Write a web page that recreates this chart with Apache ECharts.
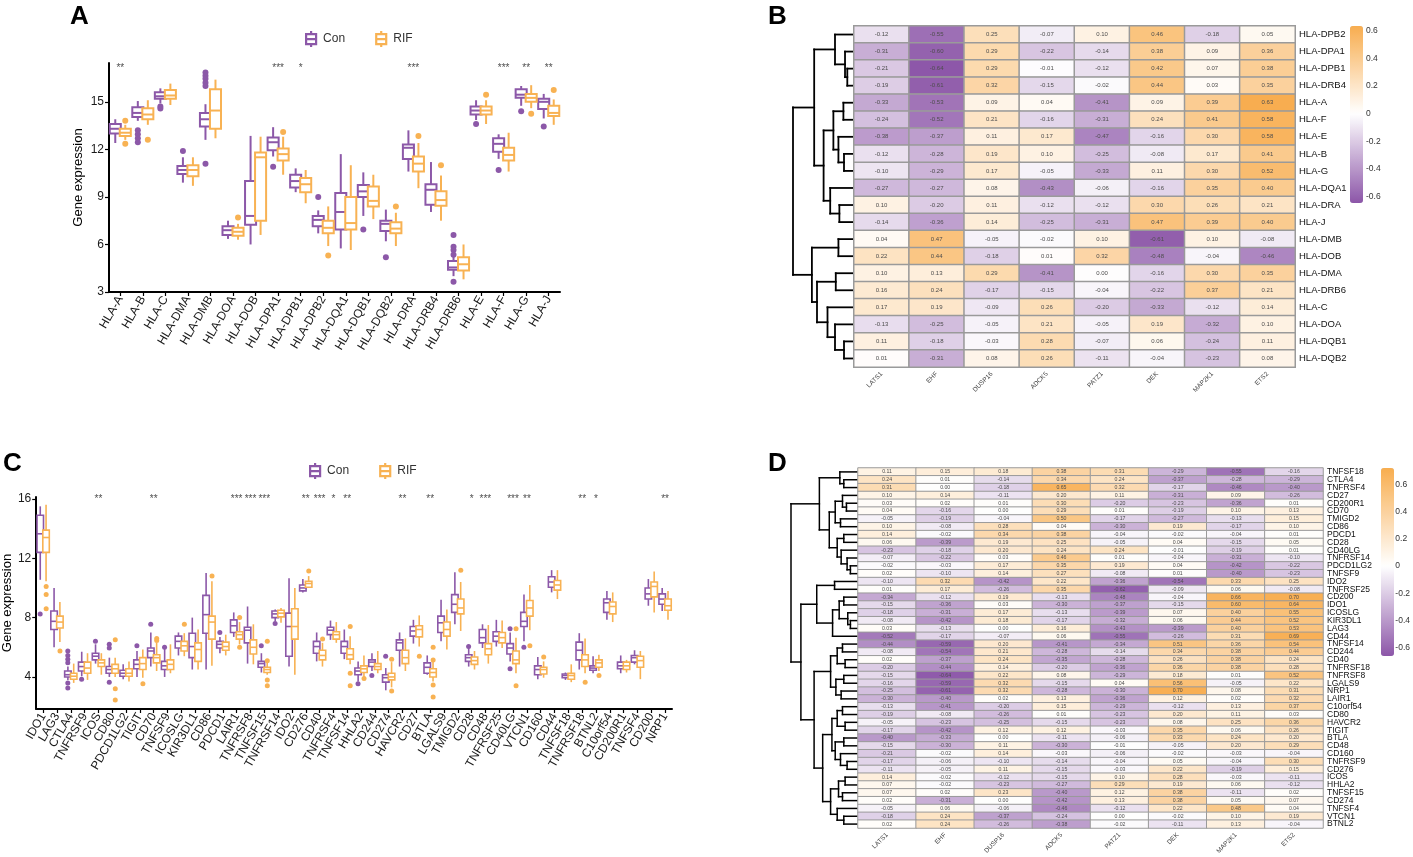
<!DOCTYPE html>
<html><head><meta charset="utf-8">
<script src="https://cdn.jsdelivr.net/npm/echarts@6/dist/echarts.min.js"></script>
<style>html,body{margin:0;padding:0;background:#fff}#c{width:1413px;height:857px}</style>
</head><body><div id="c"></div><script>
// ---------------- Panel A data (HLA genes) ----------------
const hlaGenes = ['HLA-A','HLA-B','HLA-C','HLA-DMA','HLA-DMB','HLA-DOA','HLA-DOB','HLA-DPA1','HLA-DPB1','HLA-DPB2','HLA-DQA1','HLA-DQB1','HLA-DQB2','HLA-DRA','HLA-DRB4','HLA-DRB6','HLA-E','HLA-F','HLA-G','HLA-J'];
// [lower whisker, Q1, median, Q3, upper whisker]
const hlaCon = [
 [12.4,13.0,13.3,13.6,13.9],[13.8,14.05,14.3,14.65,15.05],[14.9,15.2,15.35,15.6,15.85],[9.9,10.45,10.7,10.95,11.5],
 [12.6,13.45,13.9,14.3,14.85],[6.35,6.6,6.9,7.15,7.5],[6.0,7.25,7.8,10.0,12.85],[11.55,11.95,12.45,12.75,13.4],
 [9.3,9.6,10.0,10.4,10.8],[6.7,7.15,7.55,7.8,8.15],[5.75,6.95,8.05,9.25,11.7],[7.8,9.0,9.35,9.75,10.55],
 [6.2,6.85,7.3,7.5,8.2],[10.6,11.4,12.1,12.3,13.2],[8.05,8.5,9.45,9.8,11.2],[4.0,4.4,4.55,4.95,5.45],
 [13.85,14.2,14.45,14.7,15.1],[11.4,11.85,12.35,12.7,12.95],[14.75,15.25,15.45,15.8,16.0],[13.95,14.55,15.0,15.2,15.5]
];
const hlaRif = [
 [12.6,12.85,13.05,13.3,13.55],[13.55,13.9,14.2,14.6,15.1],[14.8,15.2,15.4,15.75,16.15],[9.7,10.3,10.7,11.0,11.5],
 [12.7,13.3,14.45,15.8,16.4],[6.3,6.55,6.8,7.05,7.3],[6.6,7.5,11.5,11.8,12.8],[10.4,11.3,11.7,12.05,12.8],
 [8.6,9.3,9.8,10.2,10.7],[5.9,6.7,7.05,7.5,8.4],[5.65,6.95,7.35,9.0,11.0],[7.6,8.4,8.75,9.65,10.4],
 [5.9,6.7,7.0,7.4,8.0],[9.55,10.6,11.1,11.55,12.4],[7.5,8.45,8.8,9.35,10.35],[3.8,4.35,4.75,5.2,6.0],
 [13.6,14.2,14.45,14.7,15.1],[10.6,11.3,11.65,12.1,13.05],[14.6,15.0,15.25,15.5,16.05],[13.55,14.1,14.3,14.75,15.15]
];
const hlaConOut = [[1,13.2],[1,12.95],[1,12.7],[1,12.45],[2,14.7],[2,14.58],[3,11.9],[4,16.85],[4,16.65],[4,16.45],[4,16.2],[4,16.0],[4,11.1],[7,10.9],[9,9.0],[11,6.95],[12,5.2],[15,6.6],[15,5.85],[15,5.65],[15,5.35],[15,3.65],[16,13.6],[17,10.7],[18,14.4],[19,13.45]];
const hlaRifOut = [[0,13.8],[0,12.35],[1,12.6],[5,7.7],[7,13.1],[9,5.3],[12,8.4],[13,12.85],[14,11.0],[16,15.45],[18,14.25],[19,15.75]];
const hlaSig = ['**','','','','','','','***','*','','','','','***','','','','***','**','**'];

// ---------------- Panel C data (immune checkpoint genes) ----------------
const icpGenes = ['IDO1','LAG3','CTLA4','TNFRSF9','ICOS','CD80','PDCD1LG2','TIGIT','CD70','TNFSF9','ICOSLG','KIR3DL1','CD86','PDCD1','LAIR1','TNFRSF8','TNFSF15','TNFRSF14','IDO2','CD276','CD40','TNFRSF4','TNFSF14','HHLA2','CD244','CD274','HAVCR2','CD27','BTLA','LGALS9','TMIGD2','CD28','CD48','TNFRSF25','CD40LG','VTCN1','CD160','CD44','TNFSF18','TNFRSF18','BTNL2','C10orf54','CD200R1','TNFSF4','CD200','NRP1'];
const icpCon = [
 [10.55,12.4,13.65,14.9,15.5],[6.0,7.2,7.75,8.45,10.0],[3.8,4.0,4.15,4.4,4.7],[4.05,4.4,4.7,5.0,5.7],
 [4.9,5.15,5.4,5.6,6.2],[4.0,4.25,4.5,4.7,5.3],[3.85,4.05,4.25,4.45,4.85],[4.0,4.55,4.85,5.15,5.75],
 [4.7,5.3,5.75,5.95,7.0],[4.0,4.5,4.75,5.05,5.9],[5.45,5.95,6.4,6.75,7.0],[4.5,5.3,6.05,6.95,8.0],
 [4.5,6.95,8.2,9.5,11.0],[5.6,5.95,6.2,6.4,6.7],[6.7,7.0,7.45,7.85,8.35],[4.9,6.3,7.15,7.35,8.75],
 [4.3,4.65,4.9,5.05,5.6],[7.75,8.0,8.25,8.45,8.55],[4.7,5.4,7.4,8.3,10.65],[9.7,9.8,10.0,10.2,10.6],
 [5.05,5.6,6.05,6.4,7.0],[6.5,6.85,7.15,7.35,7.8],[5.2,5.6,6.05,6.4,7.2],[3.7,4.15,4.4,4.6,5.05],
 [4.4,4.7,5.0,5.15,5.6],[3.1,3.65,3.95,4.15,4.6],[4.7,5.8,6.3,6.5,7.0],[6.25,6.75,7.1,7.4,7.85],
 [4.15,4.25,4.65,4.95,5.45],[6.4,7.0,7.65,8.1,9.2],[7.55,8.35,8.9,9.55,11.05],[4.7,5.05,5.3,5.5,5.95],
 [5.95,6.3,6.65,7.2,7.55],[6.05,6.4,6.75,7.05,7.85],[5.05,5.55,5.95,6.25,7.0],[6.4,7.4,7.75,8.35,9.55],
 [3.85,4.15,4.5,4.75,5.35],[9.7,10.05,10.4,10.75,11.2],[3.8,3.95,4.1,4.2,4.3],[4.5,5.15,5.8,6.35,6.95],
 [4.25,4.45,4.6,4.75,5.4],[7.85,8.35,9.0,9.25,9.8],[4.25,4.55,4.75,5.0,5.45],[4.85,5.0,5.3,5.45,5.8],
 [8.8,9.25,9.6,10.0,10.6],[8.45,8.9,9.25,9.6,10.0]
];
const icpRif = [
 [10.45,12.4,13.4,13.9,15.6],[6.35,7.3,7.7,8.1,9.05],[3.6,3.85,4.05,4.25,4.9],[3.8,4.25,4.6,5.0,5.6],
 [4.15,4.7,4.95,5.15,5.6],[4.0,4.25,4.55,4.85,5.3],[3.7,4.05,4.25,4.55,5.05],[3.95,4.5,4.9,5.3,5.85],
 [4.4,4.95,5.3,5.5,6.3],[4.25,4.5,4.85,5.15,6.2],[5.4,5.75,6.1,6.4,6.95],[4.5,5.05,5.85,6.3,7.2],
 [4.75,6.55,7.7,8.1,10.45],[5.45,5.8,6.05,6.35,6.85],[6.2,6.55,6.85,7.05,7.7],[4.85,5.55,6.0,6.5,7.55],
 [4.15,4.3,4.5,4.65,4.95],[7.65,8.05,8.3,8.5,8.65],[4.15,6.55,7.4,8.6,10.0],[10.0,10.05,10.3,10.45,10.8],
 [4.7,5.15,5.45,5.8,6.3],[6.3,6.55,6.85,7.05,7.7],[4.85,5.2,5.5,5.9,6.75],[4.0,4.3,4.55,4.75,5.45],
 [4.25,4.5,4.7,4.9,5.75],[3.3,3.8,4.0,4.25,5.0],[4.4,4.9,5.3,5.8,6.6],[6.05,6.7,7.2,7.45,8.15],
 [3.7,4.0,4.3,4.55,5.05],[5.85,6.75,7.2,7.7,8.55],[7.1,8.25,8.65,9.25,10.4],[4.5,4.85,5.1,5.35,5.75],
 [4.9,5.5,5.9,6.25,7.5],[5.95,6.3,6.65,7.0,7.8],[4.25,4.9,5.15,5.75,6.65],[7.15,8.1,8.65,9.15,10.2],
 [3.95,4.2,4.5,4.65,5.05],[9.25,9.85,10.2,10.5,11.2],[3.65,3.85,4.1,4.25,4.85],[4.25,4.7,5.15,5.5,6.6],
 [4.4,4.65,4.95,5.15,5.5],[7.7,8.25,8.75,9.05,9.7],[4.3,4.5,4.75,5.0,5.15],[3.85,4.65,5.1,5.4,5.75],
 [8.35,9.4,10.1,10.4,11.1],[7.85,8.5,8.8,9.25,9.8]
];
const icpConOut = [[0,8.25],[2,5.75],[2,5.45],[2,5.2],[2,4.95],[2,3.6],[2,3.25],[3,3.85],[4,6.4],[5,6.2],[5,5.95],[5,3.65],[7,6.1],[8,7.55],[9,6.0],[13,7.0],[16,6.1],[17,7.6],[23,3.55],[24,4.1],[25,5.4],[31,6.05],[34,7.25],[34,4.55],[35,6.0]];
const icpRifOut = [[0,10.1],[0,9.55],[0,8.6],[1,5.75],[5,6.5],[5,3.2],[5,2.45],[7,3.55],[8,6.6],[8,6.45],[10,7.55],[12,10.8],[14,8.0],[14,6.0],[16,6.4],[16,5.1],[16,3.8],[16,3.4],[19,11.15],[20,6.55],[22,7.4],[22,4.25],[22,3.4],[23,3.9],[25,5.2],[25,3.05],[27,5.4],[28,6.0],[28,5.15],[28,3.45],[28,2.65],[30,11.2],[34,7.25],[34,3.4],[35,6.1],[36,5.35],[39,3.65],[40,4.1]];
const icpSig = ['','','','','**','','','','**','','','','','','***','***','***','','','**','***','*','**','','','','**','','**','','','*','***','','***','**','','','','**','*','','','','','**'];

// ---------------- Heatmaps B and D ----------------
const heatCols = ['LATS1','EHF','DUSP16','ADCK5','PATZ1','DEK','MAP2K1','ETS2'];
const rowsB = ['HLA-DPB2','HLA-DPA1','HLA-DPB1','HLA-DRB4','HLA-A','HLA-F','HLA-E','HLA-B','HLA-G','HLA-DQA1','HLA-DRA','HLA-J','HLA-DMB','HLA-DOB','HLA-DMA','HLA-DRB6','HLA-C','HLA-DOA','HLA-DQB1','HLA-DQB2'];
const valsB = [
 [-0.12,-0.55,0.25,-0.07,0.10,0.46,-0.18,0.05],
 [-0.31,-0.60,0.29,-0.22,-0.14,0.38,0.09,0.36],
 [-0.21,-0.64,0.29,-0.01,-0.12,0.42,0.07,0.38],
 [-0.19,-0.61,0.32,-0.15,-0.02,0.44,0.03,0.35],
 [-0.33,-0.53,0.09,0.04,-0.41,0.09,0.39,0.63],
 [-0.24,-0.52,0.21,-0.16,-0.31,0.24,0.41,0.58],
 [-0.38,-0.37,0.11,0.17,-0.47,-0.16,0.30,0.58],
 [-0.12,-0.28,0.19,0.10,-0.25,-0.08,0.17,0.41],
 [-0.10,-0.29,0.17,-0.05,-0.33,0.11,0.30,0.52],
 [-0.27,-0.27,0.08,-0.43,-0.06,-0.16,0.35,0.40],
 [0.10,-0.20,0.11,-0.12,-0.12,0.30,0.26,0.21],
 [-0.14,-0.36,0.14,-0.25,-0.31,0.47,0.39,0.40],
 [0.04,0.47,-0.05,-0.02,0.10,-0.61,0.10,-0.08],
 [0.22,0.44,-0.18,0.01,0.32,-0.48,-0.04,-0.46],
 [0.10,0.13,0.29,-0.41,0.00,-0.16,0.30,0.35],
 [0.16,0.24,-0.17,-0.15,-0.04,-0.22,0.37,0.21],
 [0.17,0.19,-0.09,0.26,-0.20,-0.33,-0.12,0.14],
 [-0.13,-0.25,-0.05,0.21,-0.05,0.19,-0.32,0.10],
 [0.11,-0.18,-0.03,0.28,-0.07,0.06,-0.24,0.11],
 [0.01,-0.31,0.08,0.26,-0.11,-0.04,-0.23,0.08]
];
// dendrogram: [height, left, right], leaves = row index
const treeB = [1.0,
  [0.647, [0.30, 0, [0.133, 1, [0.095, 2, 3]]],
          [0.49, [0.327, [0.16, 4, 5], [0.243, 6, [0.15, 7, 8]]], [0.38, 9, [0.227, 10, 11]]]],
  [0.685, [0.243, 12, 13], [0.60, [0.287, 14, 15], [0.425, 16, [0.3, 17, [0.15, 18, 19]]]]]];

const rowsD = ['TNFSF18','CTLA4','TNFRSF4','CD27','CD200R1','CD70','TMIGD2','CD86','PDCD1','CD28','CD40LG','TNFRSF14','PDCD1LG2','TNFSF9','IDO2','TNFRSF25','CD200','IDO1','ICOSLG','KIR3DL1','LAG3','CD44','TNFSF14','CD244','CD40','TNFRSF18','TNFRSF8','LGALS9','NRP1','LAIR1','C10orf54','CD80','HAVCR2','TIGIT','BTLA','CD48','CD160','TNFRSF9','CD276','ICOS','HHLA2','TNFSF15','CD274','TNFSF4','VTCN1','BTNL2'];
const valsD = [
 [0.11,0.15,0.18,0.38,0.31,-0.29,-0.55,-0.16],
 [0.24,0.01,-0.14,0.34,0.24,-0.37,-0.28,-0.29],
 [0.31,-0.00,-0.18,0.65,0.32,-0.17,-0.46,-0.40],
 [0.10,0.14,-0.11,0.20,0.11,-0.31,0.09,-0.26],
 [0.03,0.02,0.01,0.30,-0.20,-0.23,-0.36,0.01],
 [0.04,-0.16,-0.00,0.29,0.01,-0.19,0.10,0.13],
 [-0.05,-0.19,-0.04,0.50,-0.17,-0.27,-0.13,0.15],
 [0.10,-0.08,0.28,0.04,-0.30,0.19,-0.17,0.10],
 [0.14,-0.02,0.34,0.38,-0.04,-0.02,-0.04,0.01],
 [0.06,-0.39,0.19,0.25,-0.05,0.04,-0.15,0.05],
 [-0.23,-0.18,0.20,0.24,0.24,-0.01,-0.19,0.01],
 [-0.07,-0.22,0.03,0.46,0.01,-0.04,-0.31,-0.10],
 [-0.02,-0.03,0.17,0.35,0.19,0.04,-0.42,-0.22],
 [0.02,-0.10,0.14,0.27,-0.08,0.01,-0.40,-0.23],
 [-0.10,0.32,-0.42,0.22,-0.36,-0.54,0.33,0.25],
 [0.01,0.17,-0.26,0.35,-0.62,-0.09,0.06,-0.08],
 [-0.34,-0.12,0.19,-0.13,-0.48,-0.04,0.66,0.70],
 [-0.15,-0.36,0.03,-0.30,-0.37,-0.15,0.60,0.64],
 [-0.18,-0.31,0.17,-0.13,-0.39,0.07,0.40,0.55],
 [-0.08,-0.42,0.18,-0.17,-0.32,0.06,0.44,0.52],
 [0.03,-0.13,-0.00,0.16,-0.43,-0.39,0.40,0.53],
 [-0.52,-0.17,-0.07,0.06,-0.55,-0.26,0.31,0.69],
 [-0.44,-0.59,0.20,-0.41,-0.34,0.51,0.36,0.54],
 [-0.08,-0.54,0.21,-0.28,-0.14,0.34,0.38,0.44],
 [0.02,-0.37,0.24,-0.35,-0.28,0.26,0.38,0.24],
 [-0.20,-0.44,0.14,-0.20,-0.36,0.36,0.38,0.28],
 [-0.15,-0.64,0.22,0.08,-0.29,0.18,0.01,0.52],
 [-0.16,-0.59,0.32,-0.15,0.04,0.56,-0.05,0.22],
 [-0.25,-0.61,0.32,-0.28,-0.30,0.70,0.08,0.31],
 [-0.30,-0.40,0.02,0.13,-0.36,0.12,0.02,0.32],
 [-0.13,-0.41,-0.20,0.15,-0.29,-0.12,0.13,0.37],
 [-0.19,-0.08,-0.26,0.01,-0.23,0.20,0.11,0.03],
 [-0.05,-0.23,-0.25,-0.15,-0.23,0.08,0.25,0.36],
 [-0.17,-0.42,0.12,0.12,-0.03,0.35,0.06,0.26],
 [-0.40,-0.33,0.00,-0.11,-0.06,0.33,0.24,0.20],
 [-0.15,-0.30,0.11,-0.30,-0.01,-0.05,0.20,0.29],
 [-0.21,-0.02,0.14,-0.03,-0.06,-0.02,-0.03,-0.04],
 [-0.17,-0.06,-0.10,-0.14,-0.04,0.05,-0.04,0.30],
 [-0.11,-0.05,0.11,-0.15,-0.03,0.22,-0.19,0.15],
 [0.14,-0.02,-0.12,-0.15,0.10,0.28,-0.03,-0.11],
 [0.07,-0.02,-0.23,-0.27,0.29,0.19,0.06,-0.12],
 [0.07,0.02,0.23,-0.40,0.12,0.38,-0.11,0.02],
 [0.02,-0.31,0.00,-0.42,0.13,0.38,0.05,0.07],
 [-0.05,0.06,-0.06,-0.46,-0.12,0.22,0.48,0.04],
 [-0.18,0.24,-0.37,-0.24,-0.00,-0.02,0.10,0.19],
 [0.02,0.24,-0.26,-0.38,-0.02,-0.11,0.13,-0.04]
];
const treeD = [1.0,
  [0.57, [0.26, 0, [0.2, 1, 2]],
         [0.42, [0.33, [0.22, 3, [0.16, 4, 5]], [0.25, 6, 7]],
                [0.3, [0.2, 8, 9], [0.24, 10, [0.15, 11, [0.1, 12, 13]]]]]],
  [0.85,
    [0.61, [0.34, 14, 15], [0.37, [0.27, [0.2, 16, 17], [0.14, 18, [0.1, 19, 20]]], 21]],
    [0.65,
      [0.4, [0.3, [0.22, 22, 23], [0.18, 24, 25]], [0.32, [0.2, 26, 27], [0.24, 28, 29]]],
      [0.52,
        [0.38, [0.3, [0.22, 30, 31], [0.18, 32, 33]], [0.33, [0.2, 34, 35], [0.25, 36, [0.15, 37, 38]]]],
        [0.4, [0.28, [0.18, 39, 40], [0.22, 41, 42]], [0.3, 43, [0.2, 44, 45]]]]]]];
const scaleB = [-0.645, 0.632];
const scaleD = [-0.66, 0.72];
const legendTicks = [-0.6,-0.4,-0.2,0,0.2,0.4,0.6];

// ---------------- styling ----------------
const CON = '#8C58A8', RIF = '#F8B253';
const LOW = '#8C56A8', HIGH = '#F8AD4F';
const FONT = '"Liberation Sans", Arial, sans-serif';

function hexRgb(h){return [1,3,5].map(i=>parseInt(h.substr(i,2),16));}
function mixWhite(hex,t){const c=hexRgb(hex);return 'rgb('+c.map(v=>Math.round(255+(v-255)*t)).join(',')+')';}
function stops(min,max,n){const o=[];for(let k=0;k<n;k++){const v=min+(max-min)*k/(n-1);o.push(v<0?mixWhite(LOW,Math.min(1,v/min)):mixWhite(HIGH,Math.min(1,v/max)));}return o;}

function boxSeries(name, data, ai, color, off, wf, lw){
  return {type:'custom', name, xAxisIndex:ai, yAxisIndex:ai, silent:true, z:2,
    data: data.map((d,i)=>[i].concat(d)), encode:{x:0, y:[1,2,3,4,5]},
    renderItem:(params, api)=>{
      const i = api.value(0);
      const band = api.size([1,0])[0];
      const p = [1,2,3,4,5].map(k=>api.coord([i, api.value(k)]));
      const cx = p[0][0] + band*off, w = band*wf;
      const st = {stroke:color, lineWidth:lw};
      return {type:'group', children:[
        {type:'line', shape:{x1:cx,y1:p[4][1],x2:cx,y2:p[3][1]}, style:st},
        {type:'line', shape:{x1:cx,y1:p[1][1],x2:cx,y2:p[0][1]}, style:st},
        {type:'rect', shape:{x:cx-w/2,y:p[3][1],width:w,height:p[1][1]-p[3][1]}, style:{stroke:color,lineWidth:lw,fill:'#fff'}},
        {type:'line', shape:{x1:cx-w/2,y1:p[2][1],x2:cx+w/2,y2:p[2][1]}, style:st}
      ]};
    }};
}
function outSeries(data, ai, color, offPx, size){
  return {type:'scatter', xAxisIndex:ai, yAxisIndex:ai, data, symbolSize:size, symbolOffset:[offPx,0], itemStyle:{color, opacity:1}, silent:true, z:3};
}
function starSeries(sig, yv, ai){
  return {type:'scatter', xAxisIndex:ai, yAxisIndex:ai, symbolSize:1, itemStyle:{color:'rgba(0,0,0,0)'}, silent:true,
    data: sig.map((s,i)=>[i,yv,s]).filter(d=>d[2]),
    label:{show:true, position:'inside', formatter:p=>p.data[2], fontSize:10, color:'#222', fontFamily:FONT}};
}
function dendroSegs(tree){
  const segs=[];
  (function walk(n){
    if (typeof n === 'number') return {y:n, h:0};
    const a=walk(n[1]), b=walk(n[2]), h=n[0];
    segs.push([h,a.y,h,b.y],[a.h,a.y,h,a.y],[b.h,b.y,h,b.y]);
    return {y:(a.y+b.y)/2, h};
  })(tree);
  return segs;
}
function dendroSeries(tree, ai, lw){
  return {type:'custom', xAxisIndex:ai, yAxisIndex:ai, silent:true, data:dendroSegs(tree), encode:{x:[0,2], y:[1,3]},
    renderItem:(params, api)=>{
      const a=api.coord([api.value(0),api.value(1)]), b=api.coord([api.value(2),api.value(3)]);
      return {type:'line', shape:{x1:a[0],y1:a[1],x2:b[0],y2:b[1]}, style:{stroke:'#000', lineWidth:lw, lineCap:'square'}};
    }};
}
function heatSeries(vals, ai, fs, bw){
  const data=[]; vals.forEach((r,ri)=>r.forEach((v,ci)=>data.push([ci,ri,v])));
  return {type:'heatmap', xAxisIndex:ai, yAxisIndex:ai, data, silent:true,
    itemStyle:{borderColor:'#9a9a9a', borderWidth:bw},
    label:{show:true, fontSize:fs, color:'#4d4d4d', fontFamily:FONT, formatter:p=>p.value[2].toFixed(2)},
    emphasis:{disabled:true}};
}

const grids = [
  {left:109, top:63, width:451, height:229},   // 0 A
  {left:33, top:497, width:639, height:212},   // 1 C
  {left:793, top:26, width:60, height:341},    // 2 B dendro
  {left:854, top:26, width:441, height:341},   // 3 B heat
  {left:1350, top:26, width:13, height:177},   // 4 B colorbar axis
  {left:791, top:468, width:66, height:360},   // 5 D dendro
  {left:858, top:468, width:465, height:360},  // 6 D heat
  {left:1381, top:468, width:13, height:188}   // 7 D colorbar axis
];
const axLine = {show:true, onZero:false, lineStyle:{color:'#000', width:2}};
function boxX(gi, cats, fs){
  return {type:'category', gridIndex:gi, data:cats, boundaryGap:true, axisLine:axLine,
    axisTick:{show:true, alignWithLabel:true, length:4, lineStyle:{color:'#000', width:1.2}},
    axisLabel:{rotate:60, fontSize:fs, color:'#1a1a1a', margin:5, interval:0}, splitLine:{show:false}};
}
function boxY(gi, min, max, ticks, gap){
  return {type:'value', gridIndex:gi, min, max, splitLine:{show:false}, axisLine:axLine,
    axisTick:{show:true, length:4, customValues:ticks, lineStyle:{color:'#000', width:1.2}},
    axisLabel:{fontSize:12, color:'#1a1a1a', customValues:ticks, margin:5},
    name:'Gene expression', nameLocation:'middle', nameGap:gap, nameTextStyle:{fontSize:13, color:'#000'}};
}
const hidden = (gi, min, max, inv)=>({type:'value', gridIndex:gi, min, max, inverse:!!inv, show:false});
function heatX(gi){
  return {type:'category', gridIndex:gi, data:heatCols, axisLine:{show:false}, axisTick:{show:false}, splitLine:{show:false},
    axisLabel:{rotate:45, fontSize:6.5, color:'#444', margin:6, interval:0}};
}
function heatY(gi, rows, fs){
  return {type:'category', gridIndex:gi, data:rows, inverse:true, position:'right', axisLine:{show:false}, axisTick:{show:false},
    splitLine:{show:false}, axisLabel:{fontSize:fs, color:'#111', margin:4, interval:0}};
}
function cbarY(gi, sc){
  return {type:'value', gridIndex:gi, min:sc[0], max:sc[1], position:'right', axisLine:{show:false}, axisTick:{show:false},
    splitLine:{show:false}, axisLabel:{customValues:legendTicks, fontSize:8.5, color:'#333', margin:3,
      formatter:v=>String(Math.round(v*10)/10)}};
}

const series = [
  boxSeries('Con', hlaCon, 0, CON, -0.222, 0.49, 2),
  boxSeries('RIF', hlaRif, 0, RIF, 0.222, 0.49, 2),
  outSeries(hlaConOut, 0, CON, -5, 6),
  outSeries(hlaRifOut, 0, RIF, 5, 6),
  starSeries(hlaSig, 17.15, 0),
  boxSeries('Con', icpCon, 1, CON, -0.21, 0.47, 1.6),
  boxSeries('RIF', icpRif, 1, RIF, 0.21, 0.47, 1.6),
  outSeries(icpConOut, 1, CON, -3, 5),
  outSeries(icpRifOut, 1, RIF, 3, 5),
  starSeries(icpSig, 16.0, 1),
  dendroSeries(treeB, 2, 1.8),
  heatSeries(valsB, 3, 6, 1.5),
  dendroSeries(treeD, 5, 1.5),
  heatSeries(valsD, 6, 5.2, 1)
];
const idxB = 11, idxD = 13;

const boxIcon = 'path://M5,0L5,3M0,3L10,3L10,13L0,13ZM0,8L10,8M5,13L5,16';
function legendAt(left, top){
  return {left, top, padding:0, itemWidth:14, itemHeight:16, itemGap:30, selectedMode:false,
    textStyle:{fontSize:12, color:'#333', fontFamily:FONT},
    data:[{name:'Con', icon:boxIcon, itemStyle:{color:'#fff', borderColor:CON, borderWidth:2.2}},
          {name:'RIF', icon:boxIcon, itemStyle:{color:'#fff', borderColor:RIF, borderWidth:2.2}}]};
}
const ttl = (t,l,tp)=>({text:t, left:l, top:tp, padding:0, textStyle:{fontSize:26, fontWeight:'bold', color:'#000', fontFamily:FONT}});

const option = {
  animation:false,
  textStyle:{fontFamily:FONT},
  title:[ttl('A',70,4), ttl('B',768,4), ttl('C',3,451), ttl('D',768,451)],
  legend:[legendAt(305,30), legendAt(309,462)],
  grid:grids,
  xAxis:[boxX(0,hlaGenes,12), boxX(1,icpGenes,12), hidden(2,0,1,true), heatX(3), hidden(4,0,1),
         hidden(5,0,1,true), heatX(6), hidden(7,0,1)],
  yAxis:[boxY(0,3,17.45,[3,6,9,12,15],24), boxY(1,1.84,16.13,[4,8,12,16],18), hidden(2,-0.5,rowsB.length-0.5,true),
         heatY(3,rowsB,9.5), cbarY(4,scaleB), hidden(5,-0.5,rowsD.length-0.5,true), heatY(6,rowsD,8.5), cbarY(7,scaleD)],
  visualMap:[
    {type:'continuous', seriesIndex:idxB, dimension:2, min:scaleB[0], max:scaleB[1], inRange:{color:stops(scaleB[0],scaleB[1],41)},
     left:1350, top:26, itemWidth:13, itemHeight:177, padding:0, calculable:false, hoverLink:false},
    {type:'continuous', seriesIndex:idxD, dimension:2, min:scaleD[0], max:scaleD[1], inRange:{color:stops(scaleD[0],scaleD[1],41)},
     left:1381, top:468, itemWidth:13, itemHeight:188, padding:0, calculable:false, hoverLink:false}
  ],
  series
};
const chart = echarts.init(document.getElementById('c'), null, {renderer:'canvas'});
chart.setOption(option);
</script></body></html>
